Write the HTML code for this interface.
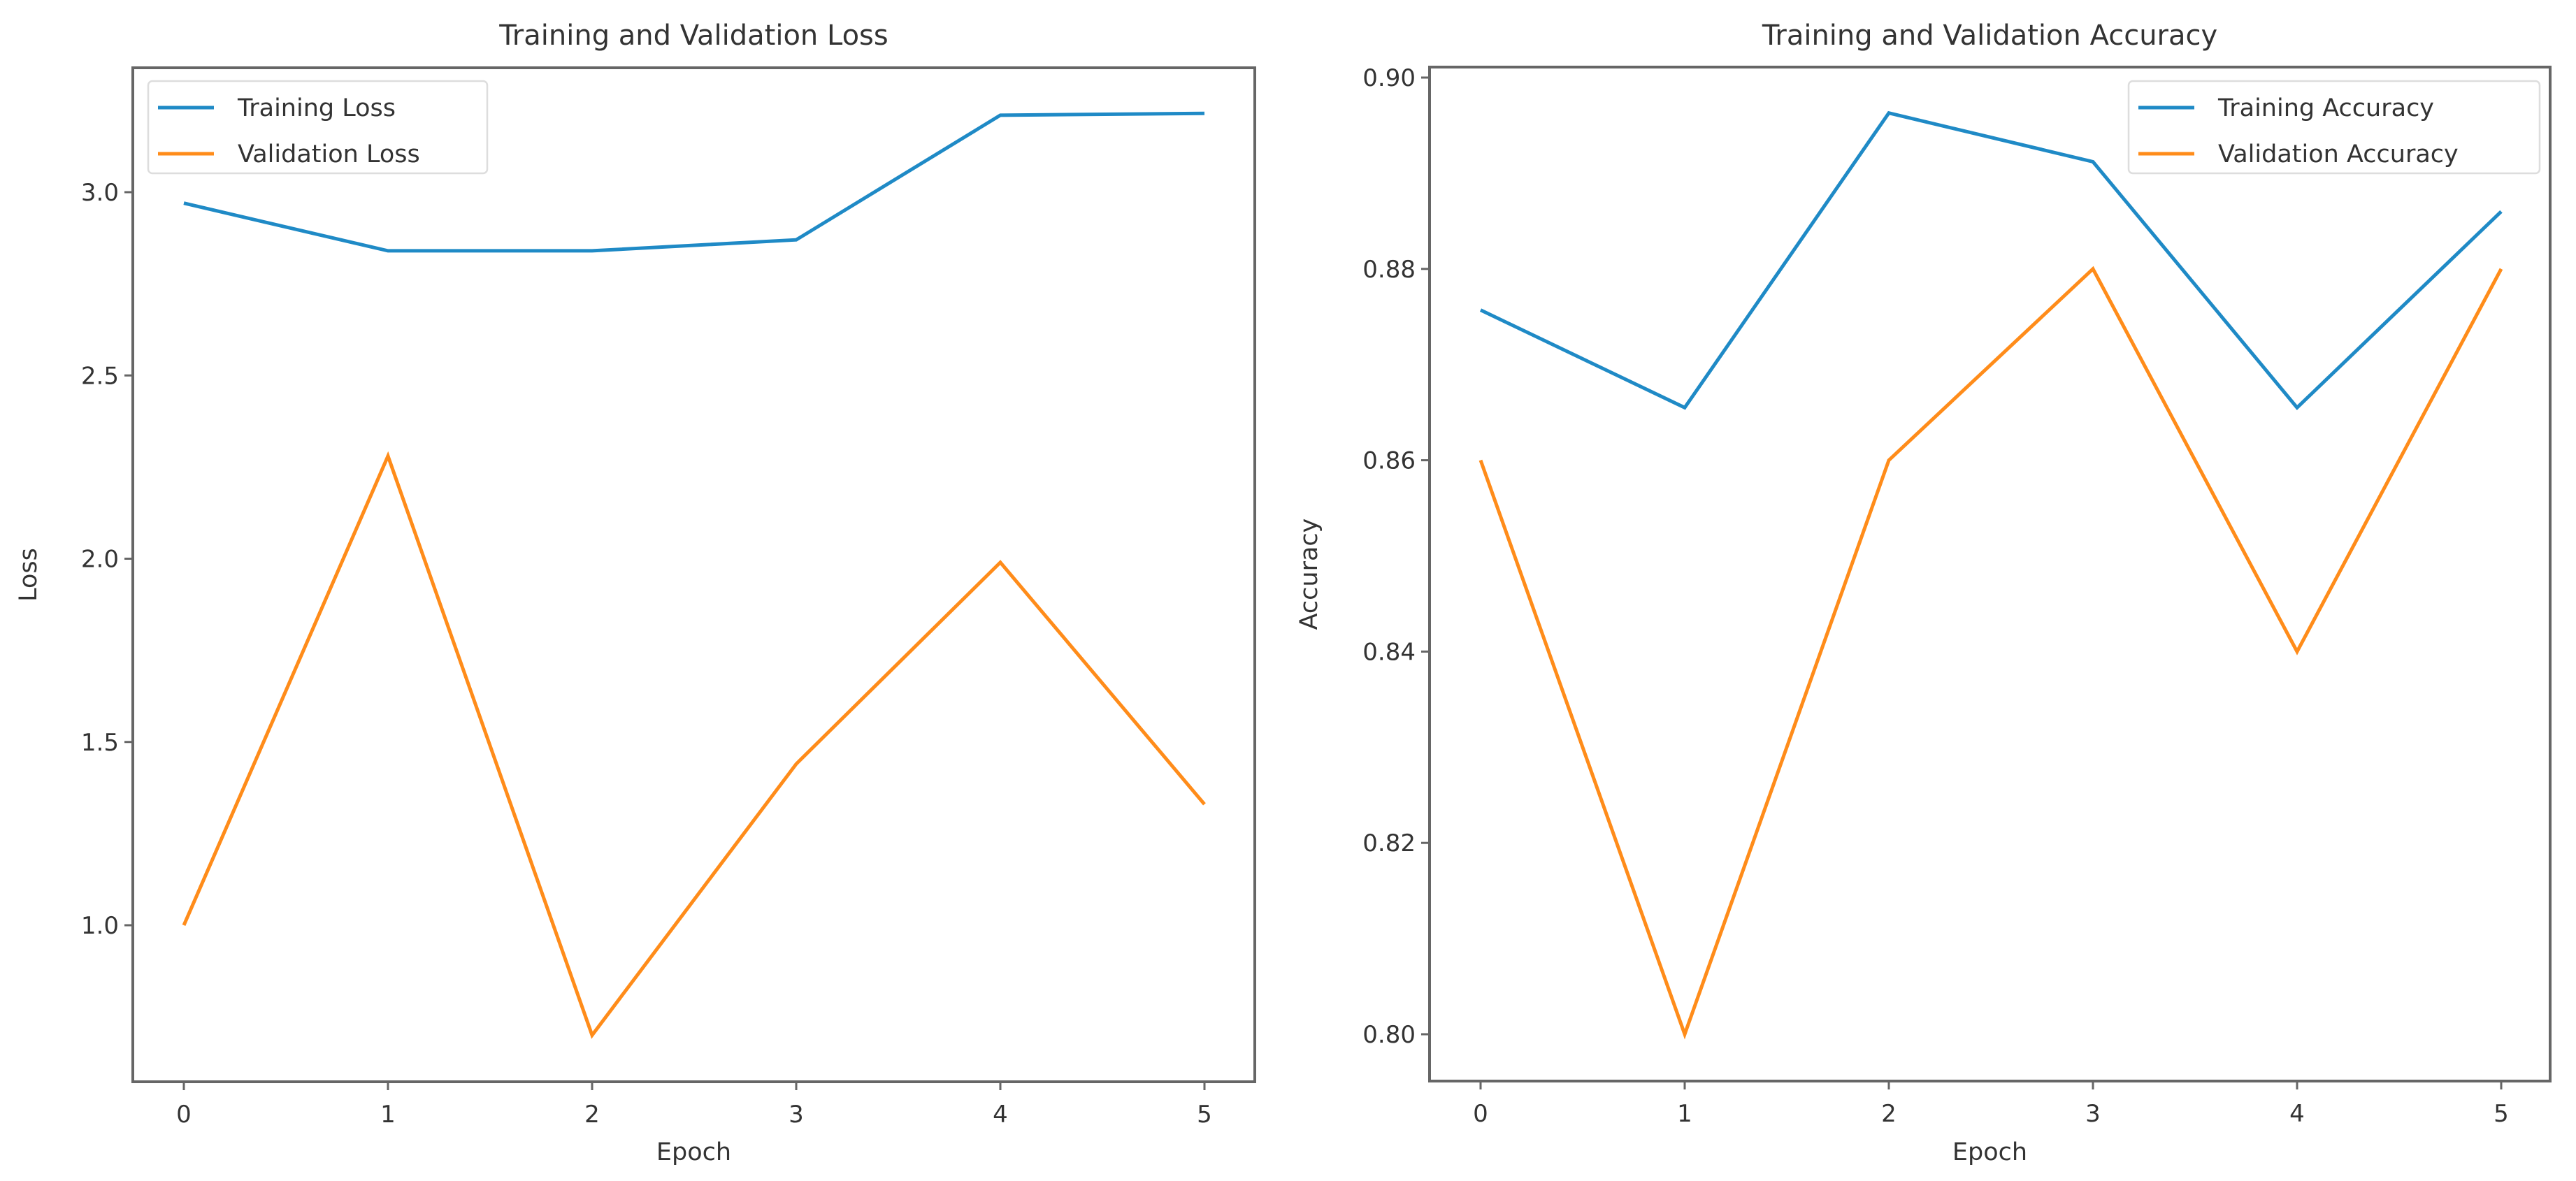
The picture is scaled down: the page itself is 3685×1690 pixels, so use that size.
<!DOCTYPE html>
<html><head><meta charset="utf-8"><style>
html,body{margin:0;padding:0;background:#fff;width:3685px;height:1690px;overflow:hidden}
svg text{font-family:"DejaVu Sans","Liberation Sans",sans-serif;fill:#333}
</style></head><body>
<svg id="svg" width="3685" height="1690" xmlns="http://www.w3.org/2000/svg"></svg>
<script>
const epochs=[0,1,2,3,4,5];
const trainLoss=[2.97,2.84,2.84,2.87,3.21,3.215];
const valLoss=[1.0,2.28,0.70,1.44,1.99,1.33];
const trainAcc=[0.8757,0.8655,0.8963,0.8912,0.8655,0.8860];
const valAcc=[0.86,0.80,0.86,0.88,0.84,0.88];
const lossTicks=[1.0,1.5,2.0,2.5,3.0];
const lossTickLabels=["1.0","1.5","2.0","2.5","3.0"];
const accTicks=[0.80,0.82,0.84,0.86,0.88,0.90];
const accTickLabels=["0.80","0.82","0.84","0.86","0.88","0.90"];
const xTickLabels=["0","1","2","3","4","5"];
const NS="http://www.w3.org/2000/svg";
const svg=document.getElementById('svg');
function mk(t,a,p){const e=document.createElementNS(NS,t);for(const k in a)e.setAttribute(k,a[k]);(p||svg).appendChild(e);return e;}
function panel(o){
  const g=mk('g',{});
  
  
  const xs=v=>o.x0px+(v-0)*(o.x5px-o.x0px)/5;
  const ys=v=>o.yApx+(v-o.yA)*(o.yBpx-o.yApx)/(o.yB-o.yA);
  const fr=mk('rect',{x:o.L,y:o.T,width:o.R-o.L,height:o.B-o.T,fill:'none',stroke:'#666','stroke-width':4},g);
  
  
  epochs.forEach((e,i)=>{
    const x=xs(e);
    mk('line',{x1:x,x2:x,y1:o.B,y2:o.B+12,stroke:'#666','stroke-width':3},g);
    const t=mk('text',{x:x,y:o.B+58,'font-size':34,'text-anchor':'middle'},g);
    t.textContent=xTickLabels[i];
    
    
  });
  o.ticks.forEach((v,i)=>{
    const y=ys(v);
    mk('line',{x1:o.L-12,x2:o.L,y1:y,y2:y,stroke:'#666','stroke-width':3},g);
    const t=mk('text',{x:o.L-20,y:y+12,'font-size':34,'text-anchor':'end'},g);
    t.textContent=o.tickLabels[i];
    
    
  });
  const cols=['#1f8ac6','#ff8c1a'];
  [o.s1,o.s2].forEach((s,k)=>{
    const p=mk('polyline',{points:s.map((v,i)=>xs(epochs[i])+','+ys(v)).join(' '),fill:'none',stroke:cols[k],'stroke-width':5,'stroke-linejoin':'miter'},g);
    
    
  });
  const ti=mk('text',{x:(o.L+o.R)/2,y:64,'font-size':40,'text-anchor':'middle'},g);
  ti.textContent=o.title;
  
  
  const xl=mk('text',{x:(o.L+o.R)/2,y:1660,'font-size':35,'text-anchor':'middle'},g);
  xl.textContent='Epoch';
  
  
  const yl=mk('text',{x:o.yl,y:(o.T+o.B)/2,'font-size':35,'text-anchor':'middle',transform:`rotate(-90 ${o.yl} ${(o.T+o.B)/2})`},g);
  yl.textContent=o.ylabel;
  
  
  const lg=mk('g',{},g);
  
  
  mk('rect',{x:o.lx,y:o.ly,width:o.lw,height:132,rx:6,fill:'#fff',stroke:'#ddd','stroke-width':2.5},lg);
  o.leg.forEach((n,k)=>{
    const y=o.ly+38+k*66;
    mk('line',{x1:o.lx+14,x2:o.lx+94,y1:y,y2:y,stroke:cols[k],'stroke-width':5},lg);
    const t=mk('text',{x:o.lx+128,y:y+12,'font-size':35},lg);
    t.textContent=n;
    
    
  });
}
panel({name:'loss-chart',L:190,R:1795,T:97,B:1548,x0px:263,x5px:1723,yA:1.0,yApx:1324,yB:3.0,yBpx:275,
  ticks:lossTicks,tickLabels:lossTickLabels,s1:trainLoss,s2:valLoss,title:'Training and Validation Loss',ylabel:'Loss',yl:52,
  lx:212,ly:116,lw:485,leg:['Training Loss','Validation Loss']});
panel({name:'accuracy-chart',L:2045,R:3648,T:96,B:1547,x0px:2118,x5px:3578,yA:0.80,yApx:1480,yB:0.90,yBpx:111,
  ticks:accTicks,tickLabels:accTickLabels,s1:trainAcc,s2:valAcc,title:'Training and Validation Accuracy',ylabel:'Accuracy',yl:1884,
  lx:3045,ly:116,lw:588,leg:['Training Accuracy','Validation Accuracy']});
</script>
</body></html>
